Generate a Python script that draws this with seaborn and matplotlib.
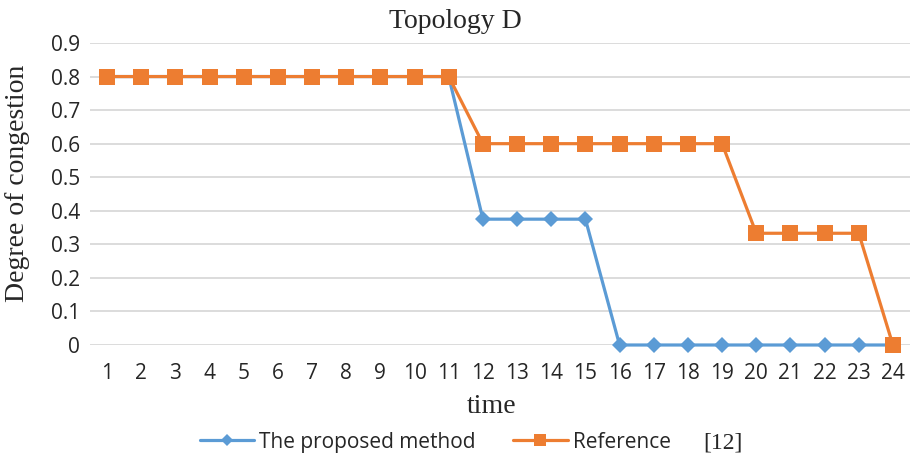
import matplotlib
matplotlib.use("Agg")
import matplotlib.pyplot as plt
from matplotlib.lines import Line2D
import seaborn as sns
import pandas as pd

time = list(range(1, 25))
proposed = [0.8] * 11 + [0.375] * 4 + [0.0] * 9
reference = [0.8] * 11 + [0.6] * 8 + [0.333] * 4 + [0.0]
series_names = ["The proposed method", "Reference"]
ref_citation = "[12]"
y_ticks = [0, 0.1, 0.2, 0.3, 0.4, 0.5, 0.6, 0.7, 0.8, 0.9]
y_tick_labels = ["0", "0.1", "0.2", "0.3", "0.4", "0.5", "0.6", "0.7", "0.8", "0.9"]

df = pd.DataFrame({
    "time": time * 2,
    "value": proposed + reference,
    "series": [series_names[0]] * len(time) + [series_names[1]] * len(time),
})

sns.set_theme(style="white")
plt.rcParams["font.family"] = ["Open Sans", "DejaVu Sans"]

W, H = 911, 461
fig = plt.figure(figsize=(W / 100, H / 100), dpi=100)
ax = fig.add_axes([90 / W, 1 - 345 / H, (910 - 90) / W, (345 - 43) / H])

blue, orange = "#5B9BD5", "#ED7D31"
palette = {series_names[0]: blue, series_names[1]: orange}
markers = {series_names[0]: "D", series_names[1]: "s"}
sns.lineplot(data=df, x="time", y="value", hue="series", style="series",
             palette=palette, markers=markers, dashes=False, linewidth=2.3,
             markeredgewidth=0, ax=ax, legend=False, zorder=3)
for line in ax.lines:
    line.set_clip_on(False)
    if line.get_marker() == "D":
        line.set_markersize(8.5)
    elif line.get_marker() == "s":
        line.set_markersize(11)

ax.set_xlim(0.5, 24.5)
ax.set_ylim(0, 0.9)
ax.set_xticks(time)
ax.set_xticklabels([str(t) for t in time], fontsize=15, color="#262626")
ax.set_yticks(y_ticks)
ax.set_yticklabels(y_tick_labels, fontsize=15, color="#262626")
ax.tick_params(axis="x", length=0, pad=13)
ax.tick_params(axis="y", length=0, pad=7)
ax.grid(axis="y", color="#d9d9d9", linewidth=1.3)
ax.set_axisbelow(True)
for s in ax.spines.values():
    s.set_visible(False)
ax.set_xlabel("")
ax.set_ylabel("")

fig.text(492 / W, 1 - 413 / H, "time", ha="center", va="baseline", fontsize=20,
         family="Liberation Serif")
fig.text(18 / W, 1 - 183 / H, "Degree of congestion", ha="center", va="center",
         rotation=90, fontsize=20, family="Liberation Serif")
fig.text(455 / W, 1 - 28 / H, "Topology D", ha="center", va="baseline", fontsize=20,
         family="Liberation Serif")

handles = [
    Line2D([], [], color=blue, marker="D", markersize=6.5, linewidth=2.3, markeredgewidth=0),
    Line2D([], [], color=orange, marker="s", markersize=8.5, linewidth=2.3, markeredgewidth=0),
]
fig.legend(handles, series_names, loc="center left", bbox_to_anchor=(200 / W, 1 - 442 / H),
           ncol=2, frameon=False, fontsize=15, handlelength=2.6, columnspacing=1.8,
           handletextpad=0.25, borderpad=0, borderaxespad=0)
fig.text(703 / W, 1 - 448 / H, ref_citation, ha="left", va="baseline", fontsize=17,
         family="Liberation Serif")

fig.savefig("out.png", dpi=100)
